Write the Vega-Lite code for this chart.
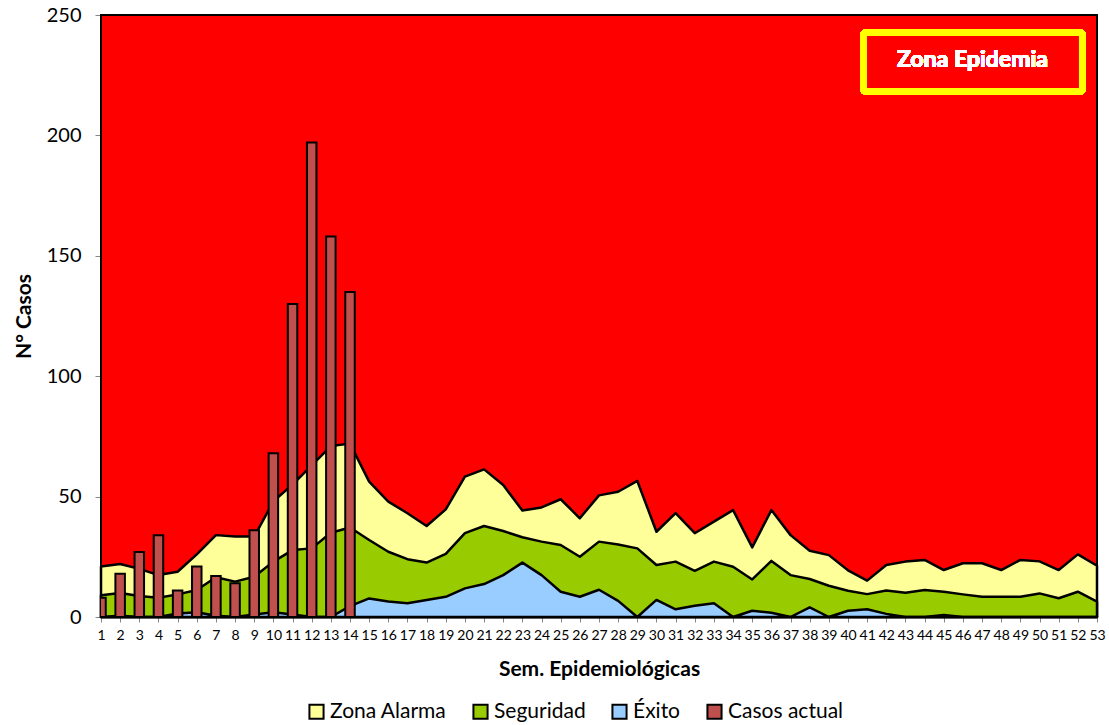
{
  "$schema": "https://vega.github.io/schema/vega-lite/v6.json",
  "autosize": {"type": "none"},
  "width": 996,
  "height": 602,
  "padding": {"left": 101, "top": 15, "right": 12, "bottom": 108},
  "background": "white",
  "config": {
    "font": "Lato",
    "view": {"stroke": null}
  },
  "data": {
    "values": [
      {"semana": 1, "alarma": 21, "seguridad": 9, "exito": 0, "casos": 8},
      {"semana": 2, "alarma": 22, "seguridad": 10, "exito": 0.5, "casos": 18},
      {"semana": 3, "alarma": 20, "seguridad": 8.7, "exito": 0, "casos": 27},
      {"semana": 4, "alarma": 17.4, "seguridad": 8, "exito": 0, "casos": 34},
      {"semana": 5, "alarma": 18.8, "seguridad": 9.4, "exito": 1.5, "casos": 11},
      {"semana": 6, "alarma": 26, "seguridad": 11.2, "exito": 2, "casos": 21},
      {"semana": 7, "alarma": 34, "seguridad": 16.5, "exito": 0.5, "casos": 17},
      {"semana": 8, "alarma": 33.4, "seguridad": 14.7, "exito": 0, "casos": 14},
      {"semana": 9, "alarma": 33.4, "seguridad": 16.7, "exito": 1, "casos": 36},
      {"semana": 10, "alarma": 48, "seguridad": 23, "exito": 2, "casos": 68},
      {"semana": 11, "alarma": 55, "seguridad": 27.8, "exito": 1, "casos": 130},
      {"semana": 12, "alarma": 63, "seguridad": 28.5, "exito": 0, "casos": 197},
      {"semana": 13, "alarma": 71, "seguridad": 35, "exito": 0, "casos": 158},
      {"semana": 14, "alarma": 72, "seguridad": 37.2, "exito": 4.5, "casos": 135},
      {"semana": 15, "alarma": 56.2, "seguridad": 32, "exito": 7.7},
      {"semana": 16, "alarma": 47.9, "seguridad": 27.1, "exito": 6.4},
      {"semana": 17, "alarma": 43.1, "seguridad": 24, "exito": 5.7},
      {"semana": 18, "alarma": 37.8, "seguridad": 22.6, "exito": 7.1},
      {"semana": 19, "alarma": 44.7, "seguridad": 26.2, "exito": 8.4},
      {"semana": 20, "alarma": 58.3, "seguridad": 34.8, "exito": 11.9},
      {"semana": 21, "alarma": 61.3, "seguridad": 37.8, "exito": 13.7},
      {"semana": 22, "alarma": 54.8, "seguridad": 35.7, "exito": 17.4},
      {"semana": 23, "alarma": 44.2, "seguridad": 33.1, "exito": 22.6},
      {"semana": 24, "alarma": 45.5, "seguridad": 31.3, "exito": 17.4},
      {"semana": 25, "alarma": 48.9, "seguridad": 29.9, "exito": 10.5},
      {"semana": 26, "alarma": 41, "seguridad": 25, "exito": 8.4},
      {"semana": 27, "alarma": 50.5, "seguridad": 31.3, "exito": 11.3},
      {"semana": 28, "alarma": 52, "seguridad": 30.1, "exito": 6.7},
      {"semana": 29, "alarma": 56.5, "seguridad": 28.5, "exito": 0},
      {"semana": 30, "alarma": 35.4, "seguridad": 21.6, "exito": 7.1},
      {"semana": 31, "alarma": 43.1, "seguridad": 23, "exito": 3.2},
      {"semana": 32, "alarma": 34.8, "seguridad": 19.2, "exito": 4.7},
      {"semana": 33, "alarma": 39.6, "seguridad": 23, "exito": 5.7},
      {"semana": 34, "alarma": 44.4, "seguridad": 20.9, "exito": 0},
      {"semana": 35, "alarma": 28.9, "seguridad": 15.6, "exito": 2.6},
      {"semana": 36, "alarma": 44.4, "seguridad": 23.3, "exito": 1.8},
      {"semana": 37, "alarma": 34, "seguridad": 17.4, "exito": 0},
      {"semana": 38, "alarma": 27.5, "seguridad": 15.8, "exito": 4},
      {"semana": 39, "alarma": 25.7, "seguridad": 13, "exito": 0},
      {"semana": 40, "alarma": 19.4, "seguridad": 10.9, "exito": 2.6},
      {"semana": 41, "alarma": 15.1, "seguridad": 9.5, "exito": 3.2},
      {"semana": 42, "alarma": 21.6, "seguridad": 11, "exito": 1.3},
      {"semana": 43, "alarma": 23, "seguridad": 10.1, "exito": 0},
      {"semana": 44, "alarma": 23.7, "seguridad": 11.2, "exito": 0},
      {"semana": 45, "alarma": 19.5, "seguridad": 10.5, "exito": 0.8},
      {"semana": 46, "alarma": 22.3, "seguridad": 9.4, "exito": 0},
      {"semana": 47, "alarma": 22.3, "seguridad": 8.4, "exito": 0},
      {"semana": 48, "alarma": 19.5, "seguridad": 8.4, "exito": 0},
      {"semana": 49, "alarma": 23.7, "seguridad": 8.4, "exito": 0},
      {"semana": 50, "alarma": 23.1, "seguridad": 9.8, "exito": 0},
      {"semana": 51, "alarma": 19.5, "seguridad": 7.8, "exito": 0},
      {"semana": 52, "alarma": 26, "seguridad": 10.5, "exito": 0},
      {"semana": 53, "alarma": 21.3, "seguridad": 6.4, "exito": 0}
    ]
  },
  "encoding": {
    "x": {
      "field": "semana",
      "type": "quantitative",
      "scale": {"domain": [1, 53], "nice": false, "zero": false, "padding": 0},
      "axis": {
        "title": "Sem. Epidemiológicas",
        "values": [1,2,3,4,5,6,7,8,9,10,11,12,13,14,15,16,17,18,19,20,21,22,23,24,25,26,27,28,29,30,31,32,33,34,35,36,37,38,39,40,41,42,43,44,45,46,47,48,49,50,51,52,53],
        "labelOverlap": false,
        "labelFlush": false,
        "labelFontSize": 14,
        "labelColor": "#000000",
        "labelPadding": 6,
        "tickColor": "#868686",
        "tickSize": 5,
        "domainColor": "#868686",
        "domainWidth": 1.5,
        "grid": false,
        "titleFontSize": 21,
        "titleFontWeight": "bold",
        "titleColor": "#000000",
        "titlePadding": 16
      }
    }
  },
  "layer": [
    {
      "mark": {"type": "area", "fill": "#FF0000", "stroke": "#000000", "strokeWidth": 2},
      "encoding": {
        "y": {
          "datum": 250,
          "type": "quantitative",
          "scale": {"domain": [0, 250], "nice": false},
          "axis": {
            "title": "N° Casos",
            "values": [0, 50, 100, 150, 200, 250],
            "labelFontSize": 20,
            "labelColor": "#000000",
            "labelPadding": 14,
            "tickColor": "#868686",
            "tickSize": 6,
            "domainColor": "#868686",
            "domainWidth": 1.5,
            "grid": false,
            "titleFontSize": 21,
            "titleFontWeight": "bold",
            "titleColor": "#000000",
            "titlePadding": 12
          }
        }
      }
    },
    {
      "mark": {"type": "area", "stroke": "#000000", "strokeWidth": 2.5, "strokeJoin": "round"},
      "encoding": {
        "y": {"field": "alarma", "type": "quantitative"},
        "color": {
          "datum": "Zona Alarma",
          "scale": {
            "domain": ["Zona Alarma", "Seguridad", "Éxito", "Casos actual"],
            "range": ["#FFFF99", "#99CC00", "#99CCFF", "#C0504D"]
          },
          "legend": {
            "title": null,
            "orient": "none",
            "direction": "horizontal",
            "legendX": 205,
            "legendY": 686,
            "symbolType": "square",
            "symbolSize": 200,
            "symbolStrokeColor": "#000000",
            "symbolStrokeWidth": 2,
            "symbolOpacity": 1,
            "labelFontSize": 21,
            "labelColor": "#000000",
            "labelOffset": 3,
            "columnPadding": 22
          }
        }
      }
    },
    {
      "mark": {"type": "area", "stroke": "#000000", "strokeWidth": 2.5, "strokeJoin": "round"},
      "encoding": {
        "y": {"field": "seguridad", "type": "quantitative"},
        "color": {"datum": "Seguridad"}
      }
    },
    {
      "mark": {"type": "area", "stroke": "#000000", "strokeWidth": 2.5, "strokeJoin": "round"},
      "encoding": {
        "y": {"field": "exito", "type": "quantitative"},
        "color": {"datum": "Éxito"}
      }
    },
    {
      "mark": {"type": "bar", "size": 9.5, "stroke": "#000000", "strokeWidth": 2, "clip": true},
      "encoding": {
        "y": {"field": "casos", "type": "quantitative"},
        "color": {"datum": "Casos actual"}
      }
    },
    {
      "mark": {"type": "rect", "fill": "#FF0000", "stroke": "#FFFF00", "strokeWidth": 7, "cornerRadius": 3},
      "encoding": {
        "x": {"datum": 40.81},
        "x2": {"datum": 52.24},
        "y": {"datum": 242.7},
        "y2": {"datum": 218.2}
      }
    },
    {
      "mark": {"type": "text", "text": "Zona Epidemia", "color": "#FFFFFF", "fontSize": 23, "fontWeight": "bold", "align": "center", "baseline": "middle"},
      "encoding": {
        "x": {"datum": 46.5},
        "y": {"datum": 231.5}
      }
    }
  ]
}
